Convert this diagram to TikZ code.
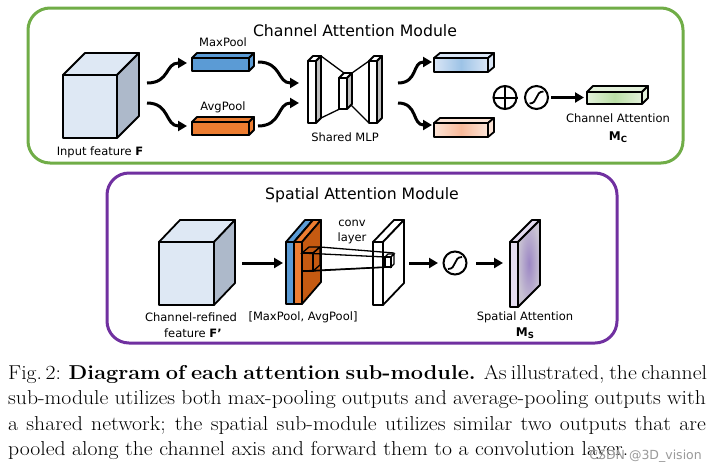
\documentclass[tikz,border=0pt]{standalone}
\usepackage{fontspec}
\setsansfont{DejaVu Sans}
\usetikzlibrary{arrows.meta,calc}
\definecolor{cgreen}{HTML}{70AD47}
\definecolor{cpurple}{HTML}{7030A0}
\definecolor{cubefront}{HTML}{DEE8F4}
\definecolor{cubeside}{HTML}{ADB9CA}
\definecolor{mpblue}{HTML}{5B9BD5}
\definecolor{aporange}{HTML}{ED7D31}
\definecolor{apbrown}{HTML}{C55A11}
\definecolor{slabgray}{HTML}{BFBFBF}
\definecolor{bluelight}{HTML}{DAE6F6}
\definecolor{bluemid}{HTML}{9DC3E6}
\definecolor{redlight}{HTML}{FCE4D6}
\definecolor{redmid}{HTML}{F8B99A}
\definecolor{greenlight}{HTML}{E2F0D9}
\definecolor{greenmid}{HTML}{BADFA6}
\definecolor{lavfront}{HTML}{E4DCF0}
\definecolor{lavmid}{HTML}{9C87C4}
\definecolor{lavout}{HTML}{C9C3D3}
\definecolor{wmgray}{HTML}{9A9A9A}
\tikzset{
  obj/.style={draw=black, line width=1.8pt, line join=round},
  flow/.style={line width=3pt, -{Triangle[length=9pt,width=10pt]}},
  thinline/.style={line width=1.3pt},
  lbl/.style={font=\sffamily\fontsize{11.5}{13}\selectfont, inner sep=0pt},
  boldlbl/.style={font=\sffamily\bfseries\fontsize{12}{14}\selectfont, inner sep=0pt},
  ttl/.style={font=\sffamily\fontsize{15.7}{18}\selectfont, inner sep=0pt},
  module/.style={line width=3pt, rounded corners=22pt},
  opcircle/.style={circle, draw=black, line width=2pt, minimum size=23pt, inner sep=0pt},
  capline/.style={anchor=base west, inner sep=0pt, font=\rmfamily\fontsize{20.1}{25}\selectfont},
}
% front top-left (x,y), width, height, depth dx, dy, front/top/side options
\newcommand{\cuboid}[9]{%
  \path[obj,#8] (#1,#2) -- ({#1+#5},{#2-#6}) -- ({#1+#3+#5},{#2-#6}) -- ({#1+#3},#2) -- cycle;
  \path[obj,#9] ({#1+#3},#2) -- ({#1+#3+#5},{#2-#6}) -- ({#1+#3+#5},{#2+#4-#6}) -- ({#1+#3},{#2+#4}) -- cycle;
  \path[obj,#7] (#1,#2) rectangle ({#1+#3},{#2+#4});
}
\newcommand{\capjust}[1]{\scalebox{1.08}[1]{\hbox to 646pt{#1}}}
\newcommand{\caplast}[1]{\scalebox{1.08}[1]{#1}}
\begin{document}
\begin{tikzpicture}[x=1pt,y=-1pt]
\useasboundingbox[fill=white] (0,0) rectangle (719,472);

% ---------------- Channel attention module ----------------
\draw[module, draw=cgreen] (28,8) rectangle (683,163);
\node[ttl] (ctitle) at (355,31) {Channel Attention Module};

\cuboid{63}{75}{54}{63}{22}{22}{fill=cubefront}{fill=cubefront}{fill=cubeside}
\node[lbl] (inlbl) at (100,152) {Input feature \textbf{F}};

\cuboid{192}{58}{57}{13}{5}{5}{fill=mpblue}{fill=mpblue}{fill=mpblue}
\node[lbl] (maxlbl) at (223,42) {MaxPool};
\cuboid{192}{122}{57}{13}{5}{5}{fill=aporange}{fill=aporange}{fill=aporange}
\node[lbl] (avglbl) at (223,107) {AvgPool};

% shared MLP
\draw[thinline] (321,56) -- (344,73);
\draw[thinline] (321,118) -- (350,104);
\draw[thinline] (352,73) -- (369,61);
\draw[thinline] (350,104) -- (369,123);
\cuboid{308}{61}{8}{62}{5}{5}{fill=white}{fill=white}{fill=slabgray}
\cuboid{339}{78}{8}{31}{5}{5}{fill=white}{fill=white}{fill=slabgray}
\cuboid{369}{61}{8}{62}{5}{5}{fill=white}{fill=white}{fill=slabgray}
\node[lbl] (mlplbl) at (345,137) {Shared MLP};

\cuboid{434}{58}{54}{14}{6}{5}{left color=bluelight, right color=bluelight, middle color=bluemid}{fill=bluelight}{fill=bluelight}
\cuboid{434}{123}{54}{14}{6}{5}{left color=redlight, right color=redlight, middle color=redmid}{fill=redlight}{fill=redlight}

\node[opcircle] (plus) at (505,97.5) {};
\draw[line width=2pt] (plus.north) -- (plus.south) (plus.west) -- (plus.east);
\node[opcircle] (sig1) at (536.5,97.5) {};
\draw[line width=1.8pt] ($(sig1)+(-7,6)$) .. controls ($(sig1)+(2,6)$) and ($(sig1)+(-2,-6)$) .. ($(sig1)+(7,-6)$);

\cuboid{587}{92}{55}{12}{6}{6}{left color=greenlight, right color=greenlight, middle color=greenmid}{fill=greenlight}{fill=greenlight}
\node[lbl] (calbl) at (618,118) {Channel Attention};
\node[boldlbl] (mc) at (618,137) {M\raisebox{-0.35ex}{\fontsize{8.5}{9}\selectfont C}};

% channel arrows
\coordinate (inA) at (147,83);  \coordinate (mpL) at (187,63);
\coordinate (inB) at (147,103); \coordinate (apL) at (187,126);
\coordinate (mpR) at (258,62);  \coordinate (mlpA) at (299,83);
\coordinate (apR) at (258,126); \coordinate (mlpB) at (299,103);
\coordinate (mlpC) at (398,83); \coordinate (boL) at (432,62);
\coordinate (mlpD) at (398,103); \coordinate (roL) at (432,125);
\coordinate (sigR) at (551,97.5); \coordinate (gbL) at (584,97.5);
\draw[flow] (inA) .. controls (170,83) and (165,63) .. (mpL);
\draw[flow] (inB) .. controls (170,103) and (165,126) .. (apL);
\draw[flow] (mpR) .. controls (282,62) and (277,83) .. (mlpA);
\draw[flow] (apR) .. controls (282,126) and (277,103) .. (mlpB);
\draw[flow] (mlpC) .. controls (418,83) and (412,62) .. (boL);
\draw[flow] (mlpD) .. controls (418,103) and (412,125) .. (roL);
\draw[flow] (sigR) -- (gbL);

% ---------------- Spatial attention module ----------------
\draw[module, draw=cpurple] (107,173) rectangle (617,343);
\node[ttl] (stitle) at (362,195) {Spatial Attention Module};

\cuboid{159}{242}{55}{63}{21}{22}{fill=cubefront}{fill=cubefront}{fill=cubeside}
\node[lbl] (crlbl) at (191,317) {Channel-refined};
\node[lbl] (crlbl2) at (193,333) {feature \textbf{F’}};

\cuboid{286}{242}{8}{62}{19}{22}{fill=mpblue}{fill=mpblue}{fill=mpblue}
\cuboid{294}{242}{8}{62}{19}{22}{fill=aporange}{fill=aporange}{fill=apbrown}
\node[lbl] (poollbl) at (303,317) {[MaxPool, AvgPool]};

\cuboid{373}{242}{10}{63}{21}{22}{fill=white}{fill=white}{fill=white}
\node[lbl] (convlbl) at (352,223) {conv};
\node[lbl] (convlbl2) at (352,238) {layer};

% receptive field box and projection lines
\draw[thinline] (320,247) -- (394,253);
\draw[thinline] (302,253) -- (385,257);
\draw[thinline] (313,271) -- (391,267);
\draw[thinline] (302,271) -- (385,267);
\draw[line width=1.3pt] (302,253) -- (309,247) -- (320,247) -- (313,253) -- cycle;
\draw[line width=1.3pt] (313,253) -- (320,247) -- (320,265) -- (313,271);
\draw[line width=1.3pt] (302,253) rectangle (313,271);
\draw[line width=1.1pt, fill=white] (385,257) -- (388,254) -- (394,254) -- (391,257) -- cycle;
\draw[line width=1.1pt, fill=white] (391,257) -- (394,254) -- (394,264) -- (391,267) -- cycle;
\draw[line width=1.1pt, fill=white] (385,257) rectangle (391,267);

\node[opcircle] (sig2) at (455,263) {};
\draw[line width=1.8pt] ($(sig2)+(-7,6)$) .. controls ($(sig2)+(2,6)$) and ($(sig2)+(-2,-6)$) .. ($(sig2)+(7,-6)$);

\cuboid{510}{242}{8}{65}{22}{22}{fill=lavfront}{fill=lavfront}{inner color=lavmid, outer color=lavout}
\node[lbl] (salbl) at (525,317) {Spatial Attention};
\node[boldlbl] (ms) at (525,333) {M\raisebox{-0.35ex}{\fontsize{8.5}{9}\selectfont S}};

\coordinate (cubeR) at (242,263); \coordinate (stackL) at (283,263);
\coordinate (convR) at (409,263); \coordinate (sig2L) at (438,263);
\coordinate (sig2R) at (476,263); \coordinate (saL) at (503,263);
\draw[flow] (cubeR) -- (stackL);
\draw[flow] (convR) -- (sig2L);
\draw[flow] (sig2R) -- (saL);

% ---------------- caption ----------------
\node[capline] (cap1) at (8,379) {\capjust{Fig.\,2: \textbf{Diagram of each attention sub-module.} As illustrated, the channel}};
\node[capline] (cap2) at (8,404.5) {\capjust{sub-module utilizes both max-pooling outputs and average-pooling outputs with}};
\node[capline] (cap3) at (8,430) {\capjust{a shared network; the spatial sub-module utilizes similar two outputs that are}};
\node[capline] (cap4) at (8,455.5) {\caplast{pooled along the channel axis and forward them to a convolution layer.}};
\node[anchor=east, inner sep=0pt, text=wmgray, font=\sffamily\fontsize{12.5}{13}\selectfont] (wm) at (702,456) {CSDN @3D\_vision};
\end{tikzpicture}
\end{document}
